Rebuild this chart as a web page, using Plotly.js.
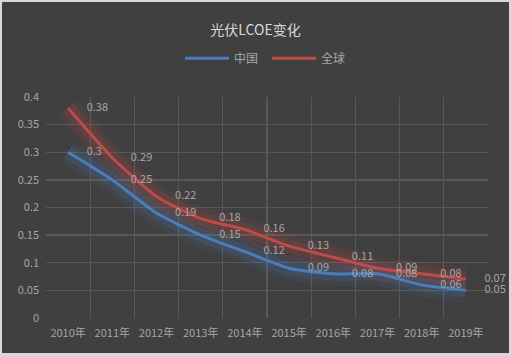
<!DOCTYPE html>
<html><head><meta charset="utf-8">
<script src="https://cdn.plot.ly/plotly-3.0.1.min.js"></script>
<style>
html,body{margin:0;padding:0;background:#d9d9d9;width:511px;height:356px;overflow:hidden}
#chart{position:absolute;left:2px;top:2px;width:507px;height:351px}
</style></head>
<body><div id="chart"></div>
<script>
const years = ['2010年','2011年','2012年','2013年','2014年','2015年','2016年','2017年','2018年','2019年'];
const china = [0.3,0.25,0.19,0.15,0.12,0.09,0.08,0.08,0.06,0.05];
const world = [0.38,0.29,0.22,0.18,0.16,0.13,0.11,0.09,0.08,0.07];
const yTicks = [0,0.05,0.1,0.15,0.2,0.25,0.3,0.35,0.4];
const yTickText = ['0','0.05','0.1','0.15','0.2','0.25','0.3','0.35','0.4'];

const BLUE = '#4a7ebb', RED = '#be4b48';
const FONT = '"Noto Sans CJK SC", "Noto Sans", sans-serif';
const LABEL_SHIFT = 0.42; // category units: data labels sit to the right of the points

function glow(y, color, w, op){
  return {x: years, y: y, mode:'lines', line:{color: color, width: w, shape:'spline', smoothing:0.6},
    opacity: op, showlegend:false, hoverinfo:'skip'};
}
function labels(y){
  return {x: years, y: y, xaxis:'x2', mode:'text', text: y.map(String), textposition:'middle right',
    cliponaxis:false, textfont:{family: FONT, size:11, color:'#a6a6a6'}, showlegend:false, hoverinfo:'skip'};
}
const traces = [
  glow(china, BLUE, 24, 0.10), glow(china, BLUE, 14, 0.16),
  glow(world, RED, 24, 0.10), glow(world, RED, 14, 0.16),
  {x: years, y: china, name:'中国', mode:'lines', line:{color: BLUE, width:3, shape:'spline', smoothing:0.6}},
  {x: years, y: world, name:'全球', mode:'lines', line:{color: RED, width:3, shape:'spline', smoothing:0.6}},
  labels(world), labels(china)
];

const shapes = [];
[0.12,0.10,0.08,0.06,0.04,0.02].forEach(t => shapes.push({
  type:'rect', xref:'paper', yref:'y', x0:0, x1:1, y0:-0.002, y1:t,
  fillcolor:'#404040', opacity:0.3, line:{width:0}, layer:'between'
}));

const layout = {
  width:507, height:351,
  paper_bgcolor:'#404040', plot_bgcolor:'#404040',
  margin:{l:44, r:21, t:95, b:35},
  font:{family: FONT, size:11, color:'#a6a6a6'},
  title:{text:'光伏LCOE变化', x:0.5, xanchor:'center', y:0.92, yref:'container', yanchor:'middle',
    font:{family: FONT, size:14, color:'#d9d9d9'}},
  showlegend:true,
  legend:{orientation:'h', x:0.5, xanchor:'center', y:0.84, yref:'container', yanchor:'middle',
    font:{family: FONT, size:12, color:'#a6a6a6'}, bgcolor:'rgba(0,0,0,0)', itemwidth:44,
    entrywidth:28, entrywidthmode:'pixels'},
  xaxis:{type:'category', categoryarray: years, tickson:'boundaries', showgrid:true, gridcolor:'#585858', gridwidth:1.3,
    ticks:'', showline:false, zeroline:false, ticklabelstandoff:7, tickfont:{family: FONT, size:11, color:'#a6a6a6'},
    range:[-0.5, 9.5], fixedrange:true},
  xaxis2:{type:'category', categoryarray: years, overlaying:'x', visible:false,
    range:[-0.5 - LABEL_SHIFT, 9.5 - LABEL_SHIFT]},
  yaxis:{range:[0,0.4], tickvals:yTicks, ticktext:yTickText, showgrid:true, gridcolor:'#585858', gridwidth:1.3,
    zeroline:false, showline:false, ticks:'', ticklabelstandoff:6, tickfont:{family: FONT, size:11, color:'#a6a6a6'}},
  shapes: shapes
};
Plotly.newPlot('chart', traces, layout, {displayModeBar:false, staticPlot:true});
</script></body></html>
